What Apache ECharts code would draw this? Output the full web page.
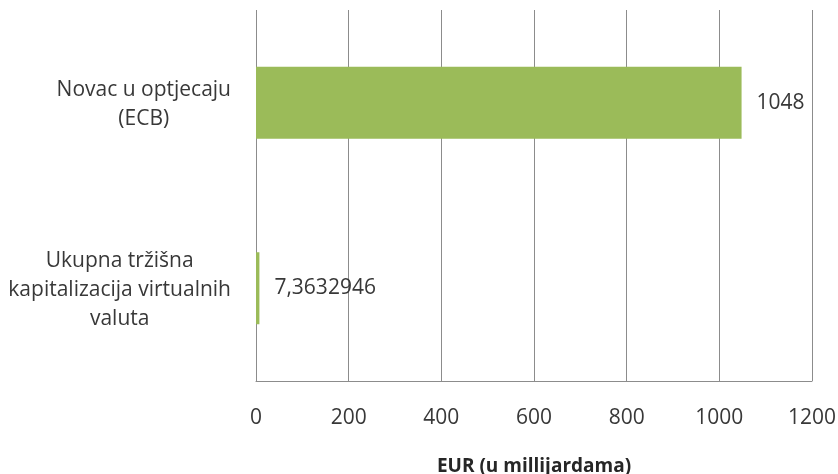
<!DOCTYPE html>
<html>
<head>
<meta charset="utf-8">
<script src="https://cdn.jsdelivr.net/npm/echarts@6/dist/echarts.min.js"></script>
<style>html,body{margin:0;padding:0;background:#fff;}#c{width:838px;height:474px;}</style>
</head>
<body>
<div id="c"></div>
<script>
const categories = ['Novac u optjecaju\n(ECB)', 'Ukupna tržišna\nkapitalizacija virtualnih\nvaluta'];
const values = [1048, 7.3632946];
const xTicks = { min: 0, max: 1200, interval: 200 };
const axisTitle = 'EUR (u millijardama)';

const chart = echarts.init(document.getElementById('c'));
const font = '"Open Sans", sans-serif';
const txt = '#383838';
chart.setOption({
  animation: false,
  grid: { left: 256, right: 26, top: 10, bottom: 93, containLabel: false, outerBoundsMode: 'none' },
  xAxis: {
    type: 'value', min: xTicks.min, max: xTicks.max, interval: xTicks.interval,
    axisLine: { show: true, lineStyle: { color: '#8c8c8c', width: 1 } },
    axisTick: { show: false },
    splitLine: { show: true, lineStyle: { color: '#8c8c8c', width: 1 } },
    axisLabel: { color: txt, fontSize: 21, fontFamily: font, margin: 27, formatter: v => String(v) },
    name: axisTitle, nameLocation: 'middle', nameGap: 76,
    nameTextStyle: { color: '#262626', fontSize: 19, fontWeight: 'bold', fontFamily: font }
  },
  yAxis: {
    type: 'category', data: categories, inverse: true,
    axisLine: { show: false }, axisTick: { show: false },
    axisLabel: {
      align: 'right', margin: 25,
      formatter: v => v.split('\n').map(l => '{c|' + l + '}').join('\n'),
      rich: { c: { align: 'center', color: txt, fontSize: 21, fontFamily: font, lineHeight: 29, padding: [4, 0, 0, 0] } }
    }
  },
  series: [{
    type: 'bar', data: values, barWidth: 72,
    itemStyle: { color: '#9bbb59' },
    label: {
      show: true, position: 'right', distance: 15,
      color: txt, fontSize: 21, fontFamily: font,
      formatter: p => String(p.value).replace('.', ',')
    }
  }]
});
</script>
</body>
</html>
